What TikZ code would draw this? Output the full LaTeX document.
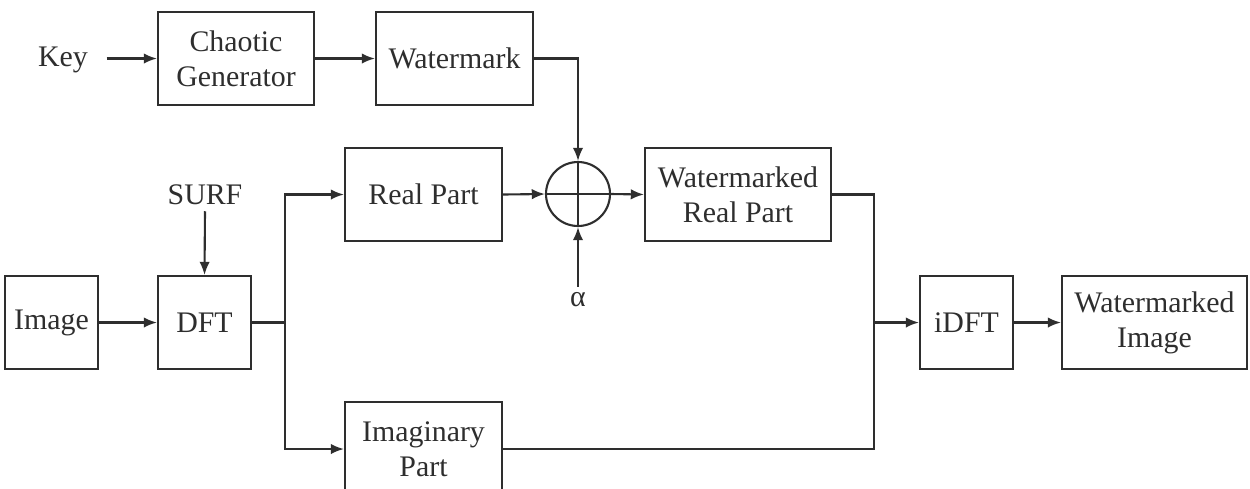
\documentclass[tikz,border=0pt]{standalone}
\usepackage{fontspec}
\setmainfont{Liberation Serif}
\usetikzlibrary{arrows.meta}
\definecolor{ink}{HTML}{2E2E2E}
\begin{document}
\begin{tikzpicture}[x=0.02cm,y=-0.02cm,
  every node/.style={font=\fontsize{17}{20}\selectfont, text=ink},
  box/.style={draw=ink, line width=1.2pt, minimum height=1.86cm, align=center, inner sep=0pt},
  arr/.style={draw=ink, line width=1.2pt, -{Latex[length=7.5pt,width=6pt]}},
  ln/.style={draw=ink, line width=1.2pt}]
\useasboundingbox (0,0) rectangle (1250,488);
\node[box, minimum width=3.12cm] (chaos) at (236,58.5) {Chaotic\\Generator};
\node[box, minimum width=3.14cm] (wm) at (454.5,58.5) {Watermark};
\node[box, minimum width=3.14cm] (real) at (423.5,194.5) {Real Part};
\node[box, minimum width=3.72cm] (wrp) at (738,194.5) {Watermarked\\Real Part};
\node[box, minimum width=1.86cm] (img) at (51.5,322.5) {Image};
\node[box, minimum width=1.86cm] (dft) at (204.5,322.5) {DFT};
\node[box, minimum width=3.14cm, minimum height=1.88cm] (imag) at (423.5,449) {Imaginary\\Part};
\node[box, minimum width=1.86cm] (idft) at (966.5,322.5) {iDFT};
\node[box, minimum width=3.70cm] (wi) at (1154.5,322.5) {Watermarked\\Image};
\node (key) at (63,60) {Key};
\node (surf) at (205,195) {SURF};
\node (alpha) at (578,300) {α};
\node[draw=ink, line width=1.2pt, circle, minimum size=1.28cm, inner sep=0pt] (sum) at (578,194) {};
\draw[ln] (sum.north) -- (sum.south);
\draw[ln] (sum.west) -- (sum.east);
\draw[arr] ([xshift=0.25cm]key.east |- chaos.west) -- (chaos.west);
\draw[arr] (chaos.east) -- (wm.west);
\draw[arr] (wm.east) -| (sum.north);
\draw[arr] (real.east) -- (sum.west);
\draw[arr] (sum.east) -- (wrp.west);
\draw[arr] (alpha.north) -- (sum.south);
\draw[arr] (surf.south) -- (dft.north);
\draw[arr] (img.east) -- (dft.west);
\coordinate (j1) at (285,322.5);
\coordinate (j2) at (874,322.5);
\draw[ln] (dft.east) -- (j1);
\draw[arr] (j1) |- (real.west);
\draw[arr] (j1) |- (imag.west);
\draw[ln] (wrp.east) -| (j2);
\draw[ln] (imag.east) -| (j2);
\draw[arr] (j2) -- (idft.west);
\draw[arr] (idft.east) -- (wi.west);
\end{tikzpicture}
\end{document}
